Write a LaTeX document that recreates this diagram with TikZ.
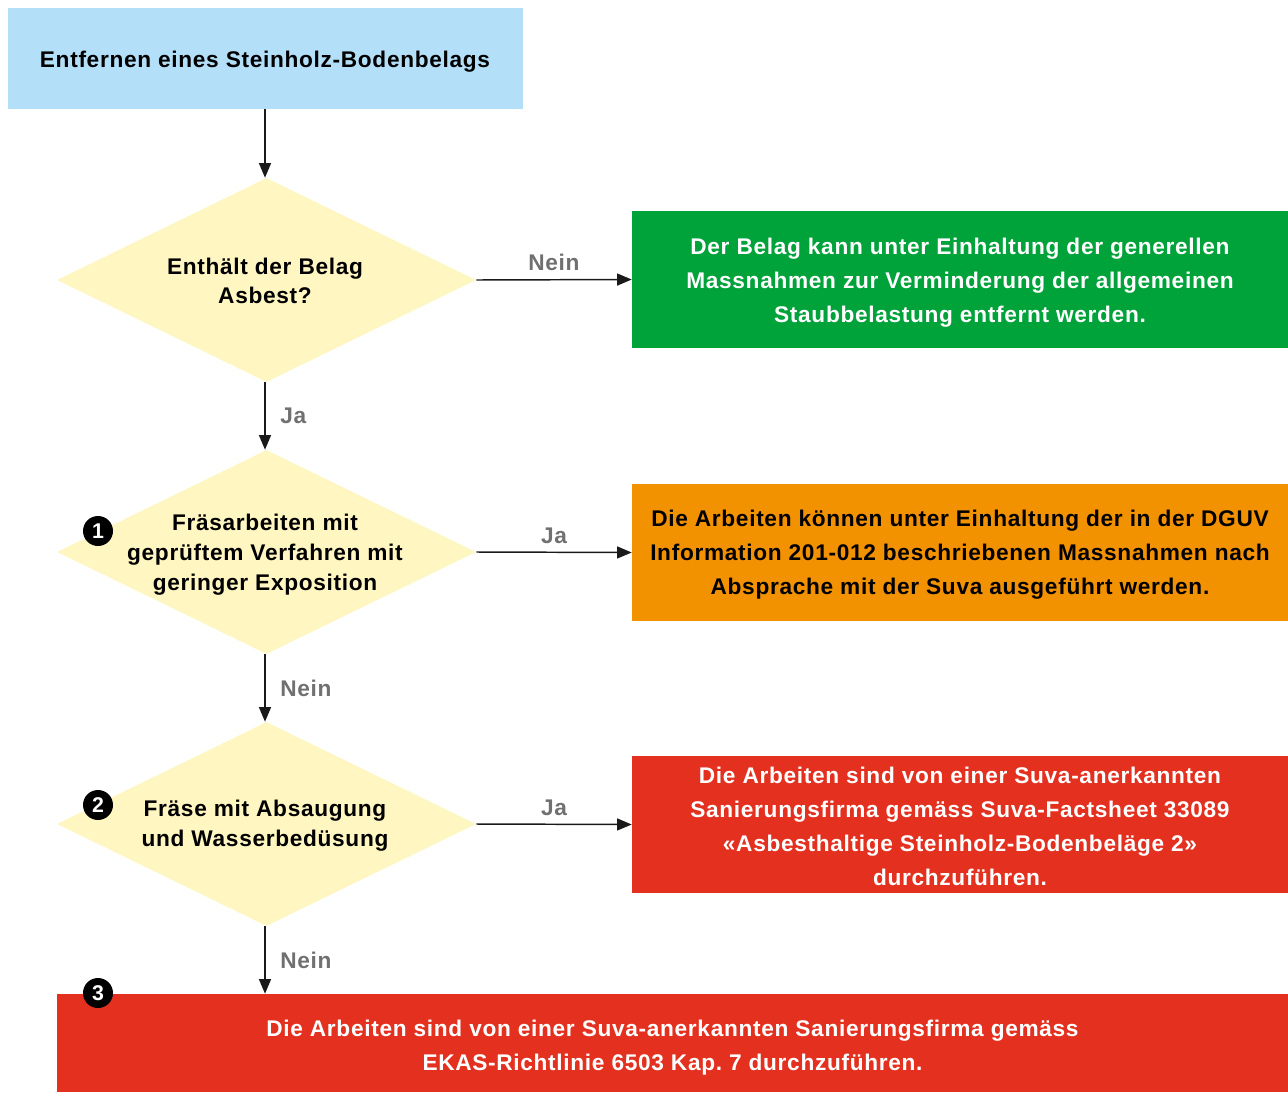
\documentclass[tikz,border=0pt]{standalone}
\usepackage{fontspec}
\setmainfont{Liberation Sans}[LetterSpace=3]
\usetikzlibrary{shapes.geometric,arrows.meta}
\frenchspacing
\definecolor{cblue}{HTML}{B3E0F8}
\definecolor{cyel}{HTML}{FFF6C1}
\definecolor{cgreen}{HTML}{00A23A}
\definecolor{corange}{HTML}{F39200}
\definecolor{cred}{HTML}{E3301F}
\definecolor{cgray}{HTML}{707070}
\definecolor{cline}{HTML}{1A1A1A}
\tikzset{
  box/.style={rectangle,inner sep=0pt},
  btext/.style={align=center,inner sep=0pt,font={\bfseries\fontsize{17pt}{25.5pt}\selectfont}},
  dia/.style={diamond,fill=cyel,inner sep=0pt,minimum width={419*0.75pt},minimum height={204*0.75pt}},
  dtext/.style={align=center,inner sep=0pt,font={\bfseries\fontsize{17pt}{22.3pt}\selectfont}},
  arr/.style={draw=cline,line width=1.1pt,-{Triangle[length=11pt,width=9pt]}},
  lab/.style={text=cgray,font={\bfseries\fontsize{17pt}{19pt}\selectfont},inner sep=0pt},
  num/.style={circle,fill=black,text=white,inner sep=0pt,minimum size={30*0.75pt},font={\bfseries\fontsize{16pt}{16pt}\selectfont}}
}
\begin{document}
\begin{tikzpicture}[x=0.75pt,y=-0.75pt]
\useasboundingbox (0,0) rectangle (1288,1092);
% start
\node[box,fill=cblue,minimum width={515*0.75pt},minimum height={101*0.75pt}] (start) at (265.5,58.5) {};
\node[btext] (st) at (265,62) {Entfernen eines Steinholz-Bodenbelags};
% diamonds
\node[dia] (d1) at (266.5,280) {};
\node[dtext] (t1) at (265,281) {Enthält der Belag\\Asbest?};
\node[dia] (d2) at (266.5,552) {};
\node[dtext] (t2) at (265,554.5) {Fräsarbeiten mit\\geprüftem Verfahren mit\\geringer Exposition};
\node[dia] (d3) at (266.5,824) {};
\node[dtext] (t3) at (265,826) {Fräse mit Absaugung\\und Wasserbedüsung};
% outcome boxes
\node[box,fill=cgreen,minimum width={656*0.75pt},minimum height={137*0.75pt}] (g) at (960,279.5) {};
\node[btext,text=white] (gt) at (960,282.5) {Der Belag kann unter Einhaltung der generellen\\Massnahmen zur Verminderung der allgemeinen\\Staubbelastung entfernt werden.};
\node[box,fill=corange,minimum width={656*0.75pt},minimum height={137*0.75pt}] (o) at (960,552.5) {};
\node[btext,text=black] (ot) at (960,555) {Die Arbeiten können unter Einhaltung der in der DGUV\\Information 201-012 beschriebenen Massnahmen nach\\Absprache mit der Suva ausgeführt werden.};
\node[box,fill=cred,minimum width={656*0.75pt},minimum height={137*0.75pt}] (r) at (960,824.5) {};
\node[btext,text=white] (rt) at (960,826) {Die Arbeiten sind von einer Suva-anerkannten\\Sanierungsfirma gemäss Suva-Factsheet 33089\\«Asbesthaltige Steinholz-Bodenbeläge 2»\\durchzuführen.};
\node[box,fill=cred,minimum width={1231*0.75pt},minimum height={98*0.75pt}] (b) at (672.5,1043) {};
\node[btext,text=white] (bt) at (672.5,1048) {Die Arbeiten sind von einer Suva-anerkannten Sanierungsfirma gemäss\\EKAS-Richtlinie 6503 Kap. 7 durchzuführen.};
% numbers
\node[num] (n1) at (98,531) {1};
\node[num] (n2) at (98,805) {2};
\node[num] (n3) at (98,993) {3};
% connectors
\draw[arr] (start.south -| t1.north) -- (t1.north |- d1.north);
\draw[arr] (d1.east) -- node[lab,above=6pt] {Nein} (g.west);
\draw[arr] (t1.south |- d1.south) -- node[lab,right=11pt] {Ja} (t2.north |- d2.north);
\draw[arr] (d2.east) -- node[lab,above=6pt] {Ja} (o.west);
\draw[arr] (t2.south |- d2.south) -- node[lab,right=11pt] {Nein} (t3.north |- d3.north);
\draw[arr] (d3.east) -- node[lab,above=6pt] {Ja} (r.west);
\draw[arr] (t3.south |- d3.south) -- node[lab,right=11pt] {Nein} (t3.south |- b.north);
\end{tikzpicture}
\end{document}
